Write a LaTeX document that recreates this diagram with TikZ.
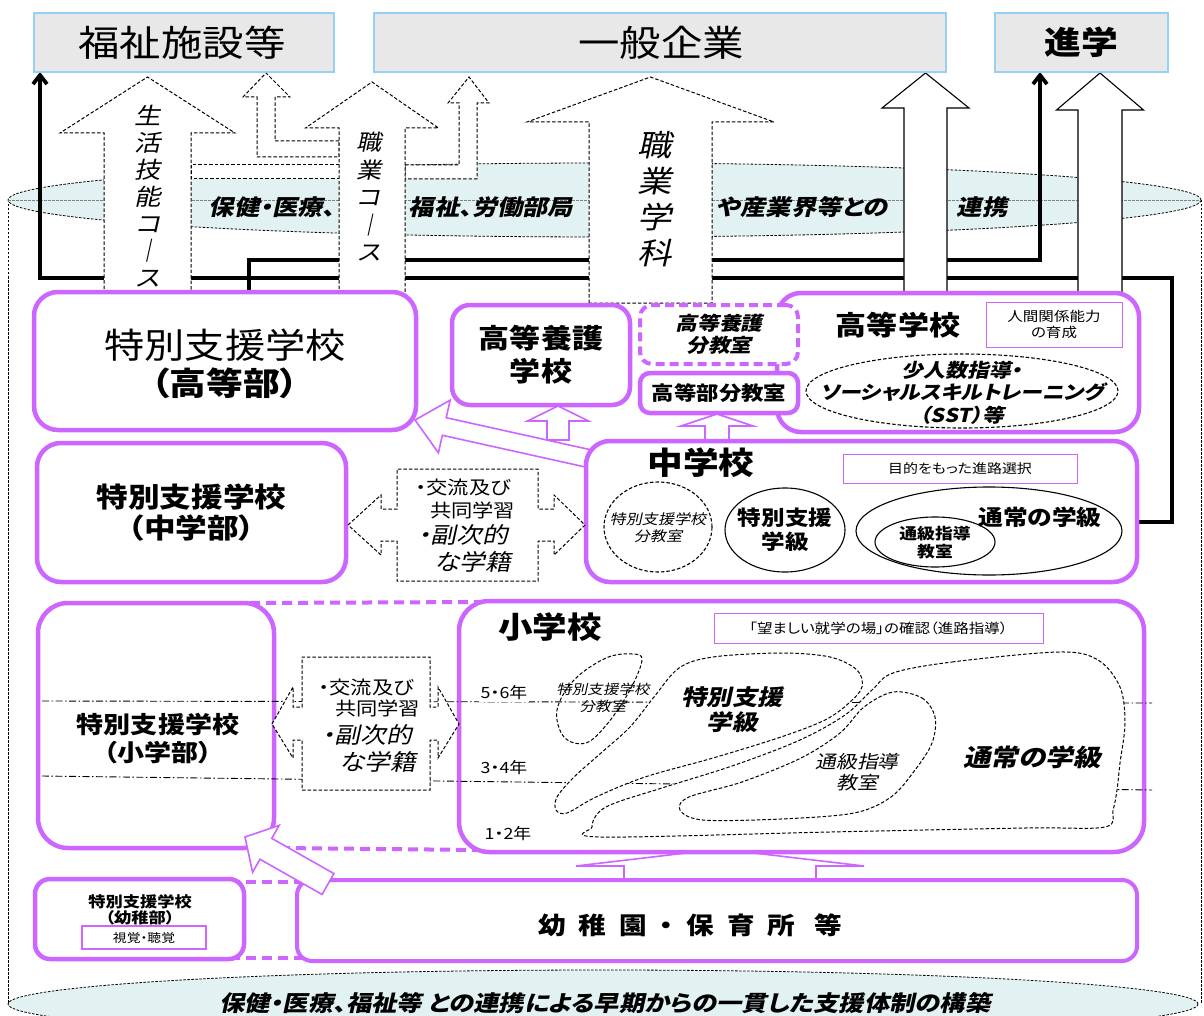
\documentclass[tikz,border=0pt]{standalone}
\usepackage{fontspec}
\setmainfont{Noto Sans CJK JP}[FakeStretch=1.15,RawFeature={+palt}]
\newfontfamily\jpi{Noto Sans CJK JP}[FakeStretch=1.15,FakeSlant=0.22,RawFeature={+palt}]
\usetikzlibrary{calc,arrows.meta,shapes.geometric}
\definecolor{pur}{RGB}{204,102,255}
\definecolor{teal0}{RGB}{226,242,242}
\definecolor{tbfill}{RGB}{232,232,232}
\definecolor{tbline}{RGB}{150,208,245}
\pgfdeclarelayer{back}
\pgfdeclarelayer{lines}
\pgfsetlayers{back,lines,main}
\newcommand\fsz[2]{\fontsize{#1}{#2}\selectfont}
\newcommand\fatarrow[6]{%
  \coordinate (fas) at (#1);
  \coordinate (fat) at (#2);
  \coordinate (fab) at ($(fat)!#5!(fas)$);
  \draw[#6] ($(fas)!#3!90:(fat)$) -- ($(fab)!#3!90:(fat)$) -- ($(fab)!#4!90:(fat)$) -- (fat)
    -- ($(fab)!#4!-90:(fat)$) -- ($(fab)!#3!-90:(fat)$) -- ($(fas)!#3!-90:(fat)$) -- cycle;}
\begin{document}
\begin{tikzpicture}[x=1pt,y=-1pt,
  every node/.style={inner sep=0pt, outer sep=0pt},
  topbox/.style={draw=tbline, line width=1.5pt, fill=tbfill},
  pbox/.style={draw=pur, line width=4.5pt, fill=white, rounded corners=#1},
  pbox/.default=22pt,
  lbox/.style={draw=pur, line width=1pt, fill=white},
  darrow/.style={draw=black, line width=1pt, dash pattern=on 3.5pt off 2pt, fill=white},
  sarrow/.style={draw=black, line width=1.1pt, fill=white},
  parrow/.style={draw=pur, line width=1.6pt, fill=white},
  blk/.style={line width=3.8pt},
  blktip/.style={-{Straight Barb[length=9pt,width=14pt]}},
  blob/.style={draw=black, line width=1pt, dash pattern=on 3.5pt off 2pt},
  cyl/.style={draw=black, line width=0.8pt, dash pattern=on 2.5pt off 1.5pt},
  dashdot/.style={draw=black, line width=0.9pt, dash pattern=on 7pt off 2.5pt on 1.5pt off 2.5pt},
  pdash/.style={draw=pur, line width=4pt, dash pattern=on 10pt off 6pt},
  ell/.style={draw=black, ellipse, line width=1.1pt},
  bandtxt/.style={font=\jpi\bfseries\fsz{22}{24}},
  grade/.style={font=\fsz{15.5}{16}, fill=white, inner sep=2pt},
]
\useasboundingbox (0,0) rectangle (1204,1016);

% ---------- cylinder and bands ----------
\begin{pgfonlayer}{back}
\fill[white] (0,0) rectangle (1204,1016);
\draw[cyl, fill=teal0] (603,1004) ellipse [x radius=595pt, y radius=34pt];
\draw[cyl] (8,200) -- (8,1004);
\draw[cyl] (1201,200) -- (1201,1004);
\draw[cyl, fill=teal0] (604.5,200) ellipse [x radius=596.5pt, y radius=37pt];
\draw[cyl, draw=gray] (8,200) -- (1201,200);
\end{pgfonlayer}
\node[font=\jpi\bfseries\fsz{22}{24}] (bandB) at (605,1003) {保健・医療、福祉等 との連携による早期からの一貫した支援体制の構築};

% ---------- upward arrows ----------
\draw[darrow] (191,165) rectangle (339,179);
\draw[darrow] (339,141) -- (275,141) -- (275,97) -- (290,97) -- (266,73) -- (243,97) -- (257,97) -- (257,157) -- (339,157) -- cycle;
\draw[darrow] (405,165) -- (459,165) -- (459,103) -- (448,103) -- (469,77) -- (489,103) -- (477,103) -- (477,179) -- (405,179) -- cycle;
\fatarrow{147.5,300}{147.5,77}{43.5pt}{87.5pt}{56pt}{darrow}
\fatarrow{372,300}{372,82}{33pt}{66.5pt}{46pt}{darrow}
\fatarrow{650.5,303}{650.5,77}{61.5pt}{123.5pt}{45pt}{darrow}
\fatarrow{925.5,300}{925.5,73}{21.5pt}{43.5pt}{35pt}{sarrow}
\fatarrow{1100,300}{1100,73}{22pt}{43.5pt}{37pt}{sarrow}

\node[font=\jpi\fsz{23}{27}, align=center] (vA) at (148,196) {生\\活\\技\\能\\コ\\｜\\ス};
\node[font=\jpi\fsz{22}{27.5}, align=center] (vE) at (369,197) {職\\業\\コ\\｜\\ス};
\node[font=\jpi\fsz{30}{36}, align=center] (vD) at (655,199) {職\\業\\学\\科};

\node[bandtxt] (b1) at (272,207) {保健・医療、};
\node[bandtxt] (b2) at (491,207) {福祉、労働部局};
\node[bandtxt] (b3) at (802,207) {や産業界等との};
\node[bandtxt] (b4) at (982,207) {連携};

% ---------- destination boxes ----------
\node[topbox, minimum width=300pt, minimum height=59pt] (welfare) at (184,42.5) {};
\node[font=\fsz{36}{36}] (welfaret) at (182,43) {福祉施設等};
\node[topbox, minimum width=572pt, minimum height=59pt] (company) at (660,42.5) {};
\node[font=\fsz{36}{36}] (companyt) at (661,43) {一般企業};
\node[topbox, minimum width=173pt, minimum height=59pt, font=\bfseries\fsz{32}{32}] (further) at (1081.5,42.5) {進学};

% ---------- high school level ----------
\node[pbox=24pt, minimum width=382pt, minimum height=138pt] (hssp) at (225,361) {};
\node[font=\fsz{35}{35}] (hssp1) at (225,345) {特別支援学校};
\node[font=\bfseries\fsz{32}{32}] (hssp2) at (225,383) {（高等部）};

\node[pbox=18pt, minimum width=178pt, minimum height=100pt, font=\bfseries\fsz{27}{33}, align=center] (koyogo) at (541,355) {高等養護\\学校};

\node[pbox=24pt, minimum width=362pt, minimum height=139pt] (hs) at (958,362.5) {};
\node[font=\bfseries\fsz{27}{27}] (hst) at (898,325) {高等学校};
\node[lbox, minimum width=136pt, minimum height=45pt, font=\fsz{13.5}{16}, align=center] (hsl) at (1054,324.5) {人間関係能力\\の育成};
\node[ell, dash pattern=on 3.5pt off 2pt, minimum width=312pt, minimum height=74pt] (sst) at (962,391) {};
\node[font=\jpi\bfseries\fsz{19}{22.5}, align=center] (sstt) at (962,392.5) {少人数指導・\\ソーシャルスキルトレーニング\\（SST）等};

\node[draw=pur, line width=4pt, dash pattern=on 9pt off 5pt, fill=white, rounded corners=12pt, minimum width=158pt, minimum height=59pt, font=\jpi\bfseries\fsz{19}{22}, align=center] (bunka) at (719,334.5) {高等養護\\分教室};
\node[pbox=10pt, minimum width=158pt, minimum height=40pt, font=\bfseries\fsz{19.5}{20}] (bunkb) at (719,393) {高等部分教室};

% ---------- arrows from junior high ----------
\fatarrow{558,440}{558,406}{11pt}{30.5pt}{15pt}{parrow}
\fatarrow{717,445}{717,414}{12pt}{36pt}{12pt}{parrow}
\fatarrow{602,461.5}{415,420}{9pt}{27pt}{30pt}{parrow}

% ---------- junior high level ----------
\node[pbox=24pt, minimum width=551pt, minimum height=141pt] (jhs) at (861.5,511.5) {};
\node[font=\bfseries\fsz{31}{31}] (jhst) at (701,463) {中学校};
\node[lbox, minimum width=234pt, minimum height=29pt, font=\fsz{13}{13}] (jhsl) at (960,468.5) {目的をもった進路選択};
\node[ell, dash pattern=on 3.5pt off 2pt, minimum width=108pt, minimum height=90pt] (jbun) at (658,527) {};
\node[font=\jpi\fsz{14}{17}, align=center] (jbunt) at (658,528) {特別支援学校\\分教室};
\node[ell, minimum width=120pt, minimum height=84pt] (jsped) at (785,530) {};
\node[font=\bfseries\fsz{20.5}{24}, align=center] (jspedt) at (785,530) {特別支援\\学級};
\node[ell, minimum width=266pt, minimum height=88pt] (jreg) at (989,531) {};
\node[font=\bfseries\fsz{21.5}{21.5}] (jregt) at (1040,517) {通常の学級};
\node[ell, minimum width=120pt, minimum height=50pt] (jtsu) at (935,542) {};
\node[font=\bfseries\fsz{15.5}{18}, align=center] (jtsut) at (935,543) {通級指導\\教室};

\node[pbox=24pt, minimum width=309pt, minimum height=139pt, font=\bfseries\fsz{27.5}{31}, align=center] (jhsp) at (191.5,512.5) {特別支援学校\\（中学部）};

\draw[darrow] (348,525) -- (381,495) -- (381,509) -- (397,509) -- (397,469) -- (538,469) -- (538,509) -- (554,509) -- (554,495) -- (585,525) -- (554,555) -- (554,541) -- (538,541) -- (538,581) -- (397,581) -- (397,541) -- (381,541) -- (381,555) -- cycle;
\node[font=\fsz{18.5}{18.5}, anchor=west] (m1) at (416,487) {・交流及び};
\node[font=\fsz{18.5}{18.5}, anchor=west] (m2) at (430,510) {共同学習};
\node[font=\jpi\fsz{22.5}{22.5}, anchor=west] (m3) at (418,535) {・副次的};
\node[font=\jpi\fsz{22.5}{22.5}, anchor=west] (m4) at (434,562) {な学籍};

% ---------- elementary level ----------
\draw[pdash] (250,603) -- (485,602);
\draw[pdash] (280,848) -- (480,850);
\draw[pdash] (230,882) -- (305,882);
\draw[pdash] (230,958) -- (305,958);
\fatarrow{720,882}{720,849}{96pt}{144pt}{17pt}{parrow}

\node[pbox=30pt, minimum width=236pt, minimum height=245pt] (elsp) at (156,725.5) {};
\node[font=\bfseries\fsz{23.5}{28}, align=center] (elspt) at (158,739) {特別支援学校\\（小学部）};
\node[pbox=30pt, minimum width=685pt, minimum height=251pt] (el) at (801.5,726.5) {};
\node[font=\bfseries\fsz{30}{30}] (elt) at (550,627) {小学校};
\node[lbox, minimum width=329pt, minimum height=30pt, font=\fsz{13.5}{14}] (ell) at (878.5,628) {「望ましい就学の場」の確認（進路指導）};

\draw[dashdot] (42,701) -- (1152,703);
\draw[dashdot] (42,776) -- (1152,790);

\draw[blob] plot[smooth cycle, tension=0.6] coordinates {(642,660) (630,690) (608,723) (586,743) (564,737) (557,710) (574,680) (606,658) (632,654)};
\draw[blob, fill=white] plot[smooth cycle, tension=0.55] coordinates {(679,668) (713,657) (781,653) (830,657) (857,670) (862,687) (849,703) (825,720) (781,737) (713,758) (645,777) (596,797) (567,813) (556,810) (557,797) (574,777) (601,753) (630,727) (654,697)};
\draw[blob, fill=white] plot[smooth cycle, tension=0.55] coordinates {(893,673) (952,662) (1059,652) (1098,660) (1120,687) (1125,723) (1120,763) (1117,790) (1113,810) (1105,827) (1025,828) (830,832) (601,837) (592,827) (598,813) (615,803) (665,787) (735,765) (800,740) (845,715) (872,690)};
\draw[blob, fill=white] plot[smooth cycle, tension=0.55] coordinates {(893,692) (922,698) (935,717) (932,743) (915,770) (891,797) (854,813) (781,819) (703,820) (680,810) (689,797) (742,782) (801,758) (840,733) (864,707)};

\node[font=\jpi\fsz{13.5}{17}, align=center] (eb1) at (603,698) {特別支援学校\\分教室};
\node[font=\jpi\bfseries\fsz{22}{25}, align=center] (eb2) at (732,710) {特別支援\\学級};
\node[font=\jpi\fsz{18}{21}, align=center] (eb3) at (857,772) {通級指導\\教室};
\node[font=\jpi\bfseries\fsz{24}{24}] (eb4) at (1032,757) {通常の学級};

\node[grade] (g56) at (504,693) {5・6年};
\node[grade] (g34) at (504,768) {3・4年};
\node[grade] (g12) at (508,834) {1・2年};

\draw[darrow] (272,724) -- (293,687) -- (293,707) -- (302,707) -- (302,657) -- (430,657) -- (430,707) -- (438,707) -- (438,687) -- (459,724) -- (438,758) -- (438,740) -- (430,740) -- (430,790) -- (302,790) -- (302,740) -- (293,740) -- (293,758) -- cycle;
\node[font=\fsz{18.5}{18.5}, anchor=west] (s1) at (319,687) {・交流及び};
\node[font=\fsz{18.5}{18.5}, anchor=west] (s2) at (335,708) {共同学習};
\node[font=\jpi\fsz{22.5}{22.5}, anchor=west] (s3) at (322,735) {・副次的};
\node[font=\jpi\fsz{22.5}{22.5}, anchor=west] (s4) at (339,762) {な学籍};

% ---------- kindergarten level ----------
\node[pbox=15pt, minimum width=209pt, minimum height=80pt] (kgsp) at (139.5,919) {};
\node[font=\bfseries\fsz{15}{16.5}, align=center] (kgspt) at (140,910) {特別支援学校\\（幼稚部）};
\node[lbox, line width=1.3pt, minimum width=124pt, minimum height=23pt, font=\fsz{12}{12}] (kgspl) at (144,937.5) {視覚・聴覚};
\node[pbox=15pt, line width=4pt, minimum width=840pt, minimum height=81pt] (kg) at (717,920.5) {};
\node[font=\bfseries\fsz{24}{24}] (kgt) at (690,925) {幼\kern13pt 稚\kern13pt 園\kern13pt ・\kern13pt 保\kern13pt 育\kern13pt 所\kern19pt 等};

\fatarrow{328,884}{245,837}{12pt}{27pt}{24pt}{parrow}

% ---------- thick black paths ----------
\begin{pgfonlayer}{lines}
\coordinate (r1) at (1172,522);
\coordinate (r2) at (1172,278);
\coordinate (l1) at (40,278);
\coordinate (m1c) at (249,260);
\coordinate (m2c) at (1040,260);
\draw[blk, blktip] (jhs.east |- r1) -- (r1) -- (r2) -- (l1) -- (welfare.south -| l1);
\draw[blk, blktip] (hssp.north -| m1c) -- (m1c) -- (m2c) -- (further.south -| m2c);
\end{pgfonlayer}
\end{tikzpicture}
\end{document}
